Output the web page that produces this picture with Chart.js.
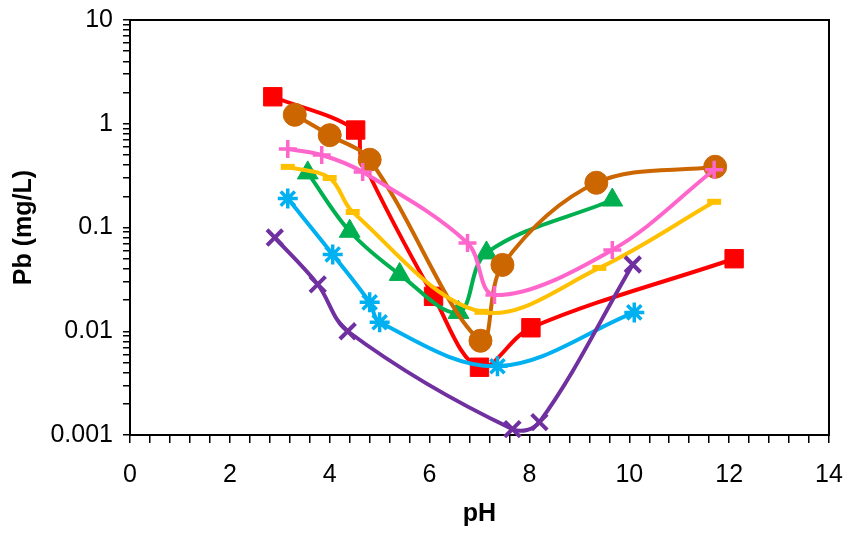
<!DOCTYPE html>
<html>
<head>
<meta charset="utf-8">
<script src="https://cdn.jsdelivr.net/npm/chart.js@4"></script>
<style>
  body { margin: 0; background: #fff; }
</style>
</head>
<body>
<canvas id="chart" width="850" height="536"></canvas>
<script>
// valori (pH, Pb in mg/L)
const phRed = [2.86, 4.52, 4.64, 6.08, 7.0, 8.03, 12.1];
const pbRed = [1.82, 0.87, 0.46, 0.0217, 0.0045, 0.0108, 0.050];
const redHidden = [2]; // punto coperto dal cerchio marrone

const phBrown = [3.3, 4.0, 4.8, 7.02, 7.46, 9.34, 11.72];
const pbBrown = [1.22, 0.776, 0.45, 0.0081, 0.0436, 0.27, 0.385];

const phGreen = [3.56, 4.4, 5.4, 6.58, 7.14, 9.66];
const pbGreen = [0.336, 0.092, 0.0353, 0.0152, 0.0569, 0.184];

const phYellow = [3.16, 4.0, 4.46, 7.04, 9.4, 11.7];
const pbYellow = [0.384, 0.30, 0.141, 0.0154, 0.0408, 0.177];

const phCyan = [3.16, 4.06, 4.8, 5.0, 7.36, 10.1];
const pbCyan = [0.19, 0.055, 0.019, 0.0122, 0.0046, 0.0152];

const phPurple = [2.9, 3.76, 4.36, 7.66, 8.2, 10.07];
const pbPurple = [0.080, 0.0283, 0.0100, 0.00114, 0.00133, 0.044];

const phPink = [3.16, 3.84, 4.66, 6.76, 7.3, 9.66, 11.7];
const pbPink = [0.57, 0.50, 0.343, 0.071, 0.0224, 0.0608, 0.36];

// etichette degli assi
const xTickLabels = [0, 2, 4, 6, 8, 10, 12, 14];
const yTickValues = [0.001, 0.01, 0.1, 1, 10];
const yTickLabels = ['0.001', '0.01', '0.1', '1', '10'];

function toPoints(xs, ys) {
    return xs.map((x, i) => ({ x: x, y: ys[i] }));
}

function serie(xs, ys, color, style, radius, pointWidth, order, hidden) {
    const skip = hidden || [];
    return {
        data: toPoints(xs, ys),
        borderColor: color,
        backgroundColor: color,
        pointBackgroundColor: color,
        pointBorderColor: color,
        borderWidth: 4,
        pointStyle: style,
        pointRadius: ctx => skip.includes(ctx.dataIndex) ? 0 : radius,
        pointHoverRadius: radius,
        pointBorderWidth: pointWidth,
        tension: 0.35,
        clip: false,
        order: order
    };
}

// cornice dell'area del grafico
const plotFrame = {
    id: 'plotFrame',
    beforeDatasetsDraw(chart) {
        const { ctx, chartArea } = chart;
        ctx.save();
        ctx.strokeStyle = '#000';
        ctx.lineWidth = 2;
        ctx.strokeRect(chartArea.left, chartArea.top, chartArea.right - chartArea.left, chartArea.bottom - chartArea.top);
        ctx.restore();
    }
};

const tickFont = { family: 'Liberation Sans', size: 25 };
const titleFont = { family: 'Liberation Sans', size: 25, weight: 'bold' };

new Chart(document.getElementById('chart'), {
    type: 'line',
    data: {
        datasets: [
            serie(phRed, pbRed, '#FF0000', 'rect', 13, 1, 7, redHidden),
            serie(phGreen, pbGreen, '#00B050', 'triangle', 12, 1, 6),
            serie(phBrown, pbBrown, '#CC6600', 'circle', 11.5, 1, 5),
            serie(phYellow, pbYellow, '#FFC000', 'line', 7, 6, 4),
            serie(phCyan, pbCyan, '#00B0F0', 'star', 10, 3.5, 3),
            serie(phPurple, pbPurple, '#7030A0', 'crossRot', 11, 4, 2),
            serie(phPink, pbPink, '#FF66CC', 'cross', 9, 3.5, 1)
        ]
    },
    options: {
        responsive: false,
        animation: false,
        layout: { padding: { top: 20, right: 21, left: 0, bottom: 0 } },
        plugins: {
            legend: { display: false },
            tooltip: { enabled: false }
        },
        scales: {
            x: {
                type: 'linear',
                min: 0,
                max: 14,
                afterFit: scale => {
                    scale.height = 101;
                    scale.paddingLeft = 0;
                    scale.paddingRight = 0;
                },
                ticks: {
                    stepSize: 0.4,
                    autoSkip: false,
                    maxRotation: 0,
                    padding: 17,
                    color: '#000',
                    font: tickFont,
                    callback: v => xTickLabels.includes(v) ? String(v) : ''
                },
                grid: { drawOnChartArea: false, drawTicks: true, tickLength: 8, color: '#000', lineWidth: 1.5 },
                border: { color: '#000', width: 2 },
                title: { display: true, text: 'pH', color: '#000', font: titleFont, padding: { bottom: 7 } }
            },
            y: {
                type: 'logarithmic',
                min: 0.001,
                max: 10,
                afterFit: scale => {
                    scale.width = 130;
                    scale.paddingTop = 0;
                    scale.paddingBottom = 0;
                },
                afterBuildTicks: scale => {
                    const ticks = [];
                    for (let d = 0; d < yTickValues.length - 1; d++) {
                        for (let k = 1; k < 10; k++) {
                            ticks.push({ value: k * yTickValues[d] });
                        }
                    }
                    ticks.push({ value: yTickValues[yTickValues.length - 1] });
                    scale.ticks = ticks;
                },
                ticks: {
                    autoSkip: false,
                    padding: 10,
                    color: '#000',
                    font: tickFont,
                    callback: v => {
                        const i = yTickValues.findIndex(t => Math.abs(t - v) < t * 1e-6);
                        return i >= 0 ? yTickLabels[i] : '';
                    }
                },
                grid: { drawOnChartArea: false, drawTicks: true, tickLength: 7, color: '#000', lineWidth: 1.5 },
                border: { color: '#000', width: 2 },
                title: { display: true, text: 'Pb (mg/L)', color: '#000', font: titleFont, padding: { top: 9 } }
            }
        }
    },
    plugins: [plotFrame]
});
</script>
</body>
</html>
